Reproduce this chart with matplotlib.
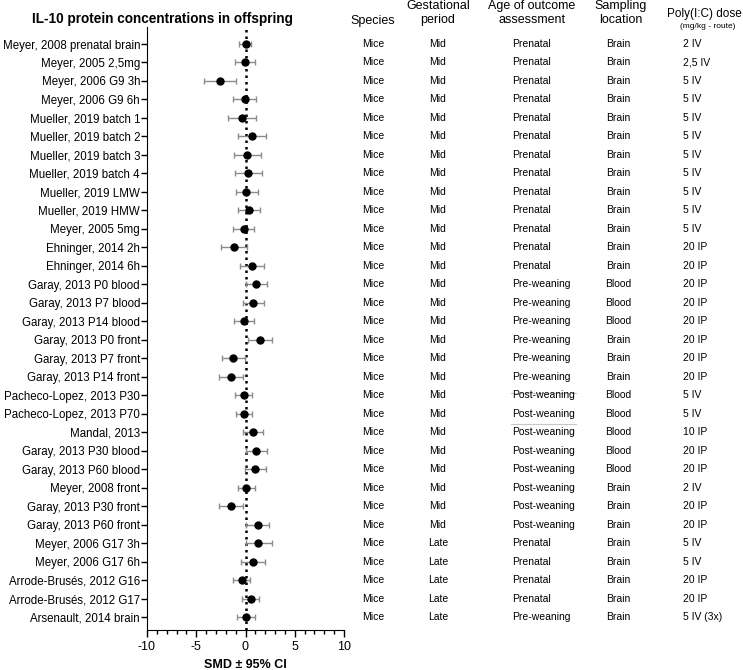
import matplotlib.pyplot as plt
import matplotlib.transforms as mtransforms
from matplotlib.lines import Line2D
import numpy as np

plt.rcParams['font.family'] = ['Liberation Sans', 'DejaVu Sans']
plt.rcParams['axes.unicode_minus'] = False

studies = ["Meyer, 2008 prenatal brain", "Meyer, 2005 2,5mg", "Meyer, 2006 G9 3h",
           "Meyer, 2006 G9 6h", "Mueller, 2019 batch 1", "Mueller, 2019 batch 2",
           "Mueller, 2019 batch 3", "Mueller, 2019 batch 4", "Mueller, 2019 LMW",
           "Mueller, 2019 HMW", "Meyer, 2005 5mg", "Ehninger, 2014 2h",
           "Ehninger, 2014 6h", "Garay, 2013 P0 blood", "Garay, 2013 P7 blood",
           "Garay, 2013 P14 blood", "Garay, 2013 P0 front", "Garay, 2013 P7 front",
           "Garay, 2013 P14 front", "Pacheco-Lopez, 2013 P30", "Pacheco-Lopez, 2013 P70",
           "Mandal, 2013", "Garay, 2013 P30 blood", "Garay, 2013 P60 blood",
           "Meyer, 2008 front", "Garay, 2013 P30 front", "Garay, 2013 P60 front",
           "Meyer, 2006 G17 3h", "Meyer, 2006 G17 6h", "Arrode-Brusés, 2012 G16",
           "Arrode-Brusés, 2012 G17", "Arsenault, 2014 brain"]

smd = [0.0, -0.07, -2.6, -0.07, -0.37, 0.68, 0.17, 0.24, 0.1, 0.37, -0.2, -1.12,
       0.64, 1.05, 0.81, -0.13, 1.45, -1.25, -1.49, -0.2, -0.2, 0.78, 1.08, 0.98,
       0.07, -1.49, 1.22, 1.25, 0.78, -0.34, 0.51, 0.03]
ci_low = [-0.65, -1.1, -4.2, -1.3, -1.76, -0.75, -1.2, -1.1, -1.0, -0.75, -1.25, -2.47,
          -0.6, 0.0, -0.3, -1.2, 0.3, -2.37, -2.67, -1.1, -1.0, -0.24, 0.03, -0.1,
          -0.75, -2.67, 0.07, 0.03, -0.44, -1.25, -0.34, -0.85]
ci_high = [0.6, 1.0, -0.95, 1.1, 1.05, 2.1, 1.6, 1.7, 1.3, 1.5, 0.88, 0.14,
           1.9, 2.2, 1.9, 0.88, 2.64, -0.07, -0.3, 0.7, 0.7, 1.73, 2.23, 2.1,
           0.95, -0.24, 2.4, 2.64, 2.0, 0.44, 1.39, 0.95]

species = ["Mice"] * 32
gestation = ["Mid"] * 27 + ["Late"] * 5
age = (["Prenatal"] * 13 + ["Pre-weaning"] * 6 + ["Post-weaning"] * 8
       + ["Prenatal"] * 4 + ["Pre-weaning"])
location = (["Brain"] * 13 + ["Blood"] * 3 + ["Brain"] * 3 + ["Blood"] * 5
            + ["Brain"] * 8)
dose = (["2 IV", "2,5 IV"] + ["5 IV"] * 9 + ["20 IP"] * 8
        + ["5 IV", "5 IV", "10 IP", "20 IP", "20 IP", "2 IV", "20 IP", "20 IP",
           "5 IV", "5 IV", "20 IP", "20 IP", "5 IV (3x)"])

W, H = 743, 670
fig = plt.figure(figsize=(W / 100, H / 100), dpi=100)
ax = fig.add_axes([147 / W, 1 - 630 / H, (344 - 147) / W, (630 - 27) / H])

y = np.arange(len(studies))
smd = np.array(smd)
err = [smd - np.array(ci_low), np.array(ci_high) - smd]
ax.errorbar(smd, y, xerr=err, fmt='o', color='black', ms=5,
            ecolor='#8c8c8c', elinewidth=1, capsize=2.5, capthick=1)
ax.axvline(0, color='black', linestyle=(0, (1, 1.6)), linewidth=1.8, zorder=0)

ax.set_xlim(-10, 10)
ax.set_ylim(31.7, -0.92)
ax.set_xticks([-10, -5, 0, 5, 10])
ax.set_xticks(np.arange(-10, 11, 1), minor=True)
ax.set_yticks(y)
ax.set_yticklabels(studies, fontsize=8.3)
ax.tick_params(axis='y', length=4, width=1, pad=1)
ax.tick_params(axis='x', which='major', length=5, width=1, labelsize=9, pad=3)
ax.tick_params(axis='x', which='minor', length=3, width=1)
ax.spines['top'].set_visible(False)
ax.spines['right'].set_visible(False)
ax.set_xlabel("SMD ± 95% CI", fontsize=9, fontweight='bold', labelpad=4)

fig.text(32 / W, 1 - 19 / H, "IL-10 protein concentrations in offspring",
         fontsize=9.8, fontweight='bold', va='center', ha='left')

# column headers
hdr = dict(fontsize=9, ha='center', va='center')
fig.text(373 / W, 1 - 21 / H, "Species", **hdr)
fig.text(438 / W, 1 - 13 / H, "Gestational\nperiod", linespacing=1.25, **hdr)
fig.text(532 / W, 1 - 13 / H, "Age of outcome\nassessment", linespacing=1.25, **hdr)
fig.text(621 / W, 1 - 13 / H, "Sampling\nlocation", linespacing=1.25, **hdr)
fig.text(704 / W, 1 - 14 / H, "Poly(I:C) dose", fontsize=8.5, ha='center', va='center')
fig.text(708 / W, 1 - 27 / H, "(mg/kg - route)", fontsize=6, ha='center', va='center')

trans = mtransforms.blended_transform_factory(fig.transFigure, ax.transData)
for i in range(len(studies)):
    fig.text(373 / W, i, species[i], transform=trans, fontsize=7.5, ha='center', va='center')
    fig.text(438 / W, i, gestation[i], transform=trans, fontsize=7.5, ha='center', va='center')
    fig.text(512 / W, i, age[i], transform=trans, fontsize=7.5, ha='left', va='center')
    fig.text(618 / W, i, location[i], transform=trans, fontsize=7.5, ha='center', va='center')
    fig.text(683 / W, i, dose[i], transform=trans, fontsize=7.5, ha='left', va='center')

# thin separator lines around the Pacheco-Lopez rows
for yy in (18.87, 20.57):
    fig.add_artist(Line2D([511 / W, 576 / W], [yy, yy], transform=trans,
                          color='#c8c8c8', linewidth=0.8))

fig.savefig("out.png", dpi=100)
